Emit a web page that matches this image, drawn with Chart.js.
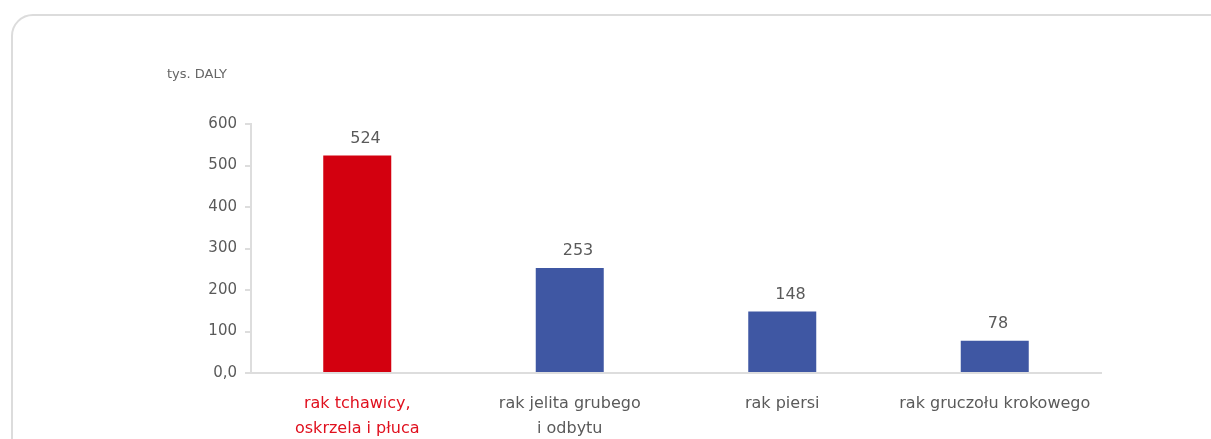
<!DOCTYPE html>
<html>
<head>
<meta charset="utf-8">
<script src="https://cdn.jsdelivr.net/npm/chart.js@4.4.0/dist/chart.umd.min.js"></script>
<style>
  html, body { margin: 0; padding: 0; background: #fff; }
  body { width: 1211px; height: 439px; position: relative; overflow: hidden; }
  #card {
    position: absolute; left: 11px; top: 14px; width: 1222px; height: 460px;
    border: 2px solid #dcdcdc; border-radius: 22px; box-sizing: border-box;
  }
  #wrap { position: absolute; left: 0; top: 0; width: 1211px; height: 439px; }
</style>
</head>
<body>
<div id="card"></div>
<div id="wrap"><canvas id="daly"></canvas></div>
<script>
// tys. DALY wg nowotworu
const categories = [
    ['rak tchawicy,', 'oskrzela i płuca'],
    ['rak jelita grubego', 'i odbytu'],
    'rak piersi',
    'rak gruczołu krokowego'
];
const values = [524, 253, 148, 78];
const barColors = ['#d3000f', '#3f57a3', '#3f57a3', '#3f57a3'];
const labelColors = ['#e0101e', '#5a5a5a', '#5a5a5a', '#5a5a5a'];
const yTickLabels = ['0,0', '100', '200', '300', '400', '500', '600'];
const unitLabel = 'tys. DALY';

const FONT = '"DejaVu Sans", Verdana, sans-serif';

// values over the bars + unit text above the y axis
const valueLabels = {
    id: 'valueLabels',
    afterDatasetsDraw(chart) {
        const ctx = chart.ctx;
        const meta = chart.getDatasetMeta(0);
        ctx.save();
        ctx.fillStyle = '#5a5a5a';
        ctx.font = '16px ' + FONT;
        ctx.textAlign = 'left';
        ctx.textBaseline = 'bottom';
        meta.data.forEach(function(bar, i) {
            ctx.fillText(values[i], bar.x - 7, bar.y - 9);
        });
        ctx.font = '13px ' + FONT;
        ctx.textBaseline = 'middle';
        ctx.fillStyle = '#666';
        ctx.fillText(unitLabel, chart.chartArea.left - 84, chart.chartArea.top - 49);
        ctx.restore();
    }
};

window.onload = function() {
    const ctx = document.getElementById('daly').getContext('2d');
    new Chart(ctx, {
        type: 'bar',
        data: {
            labels: categories,
            datasets: [{
                data: values,
                backgroundColor: barColors,
                barPercentage: 0.32,
                categoryPercentage: 1
            }]
        },
        options: {
            responsive: true,
            maintainAspectRatio: false,
            animation: false,
            layout: { padding: { left: 0, right: 110, top: 124, bottom: 0 } },
            plugins: {
                legend: { display: false },
                tooltip: { enabled: false }
            },
            scales: {
                x: {
                    grid: { display: false, drawTicks: false },
                    border: { display: true, color: '#dddddd', width: 2 },
                    ticks: {
                        color: labelColors,
                        padding: 18,
                        maxRotation: 0,
                        font: { family: FONT, size: 16, lineHeight: '25px' }
                    },
                    afterFit(scale) { scale.height = 66; }
                },
                y: {
                    min: 0,
                    max: 600,
                    grid: { drawOnChartArea: false, drawTicks: true, tickLength: 6, color: '#dddddd', lineWidth: 2 },
                    border: { display: true, color: '#dddddd', width: 2 },
                    ticks: {
                        stepSize: 100,
                        color: '#5a5a5a',
                        padding: 8,
                        font: { family: FONT, size: 15 },
                        callback: function(v, i) { return yTickLabels[i]; }
                    },
                    afterFit(scale) { scale.width = 251; }
                }
            }
        },
        plugins: [valueLabels]
    });
};
</script>
</body>
</html>
